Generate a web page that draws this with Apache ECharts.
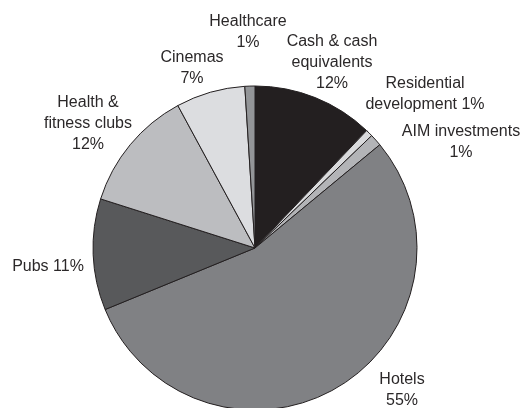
<!DOCTYPE html>
<html>
<head>
<meta charset="utf-8">
<script src="https://cdn.jsdelivr.net/npm/echarts@6/dist/echarts.min.js"></script>
<style>
html, body { margin: 0; padding: 0; background: #fff; }
#main { width: 531px; height: 408px; }
</style>
</head>
<body>
<div id="main"></div>
<script>
// slices, clockwise from 12 o'clock
var names = ['Cash & cash\nequivalents', 'Residential\ndevelopment', 'AIM investments', 'Hotels', 'Pubs', 'Health &\nfitness clubs', 'Cinemas', 'Healthcare'];
var values = [12.1, 0.7, 1.2, 54.8, 11.1, 12.2, 6.9, 1.0];
var shown = ['12%', '1%', '1%', '55%', '11%', '12%', '7%', '1%'];
// label text joins name and percent with a newline, except these
var sameLine = [false, true, false, false, true, false, false, false];

var colors = ['#231f20', '#d9dadc', '#b3b4b7', '#808184', '#58595b', '#bcbdc0', '#dcdde0', '#939598'];
// label centres (x, y) per slice
var labelPos = [[332, 63], [425, 94], [461, 142], [402, 390], [48, 267], [88, 124], [192, 68], [248, 32]];

var chart = echarts.init(document.getElementById('main'));

var pieData = [];
for (var i = 0; i < names.length; i++) {
    pieData.push({
        name: names[i],
        value: values[i],
        itemStyle: { color: colors[i] }
    });
}

chart.setOption({
    animation: false,
    series: [{
        type: 'pie',
        center: [255, 248],
        radius: 162,
        startAngle: 90,
        clockwise: true,
        avoidLabelOverlap: false,
        itemStyle: {
            borderColor: '#231f20',
            borderWidth: 1
        },
        emphasis: { disabled: true },
        label: {
            show: true,
            position: 'outside',
            fontFamily: 'Liberation Sans',
            fontSize: 16,
            lineHeight: 21,
            color: '#2b2829',
            align: 'center',
            formatter: function (p) {
                var i = p.dataIndex;
                return names[i] + (sameLine[i] ? ' ' : '\n') + shown[i];
            }
        },
        labelLine: { show: false },
        labelLayout: function (p) {
            var pos = labelPos[p.dataIndex];
            return { x: pos[0], y: pos[1], align: 'center', verticalAlign: 'middle' };
        },
        data: pieData
    }]
});
</script>
</body>
</html>
